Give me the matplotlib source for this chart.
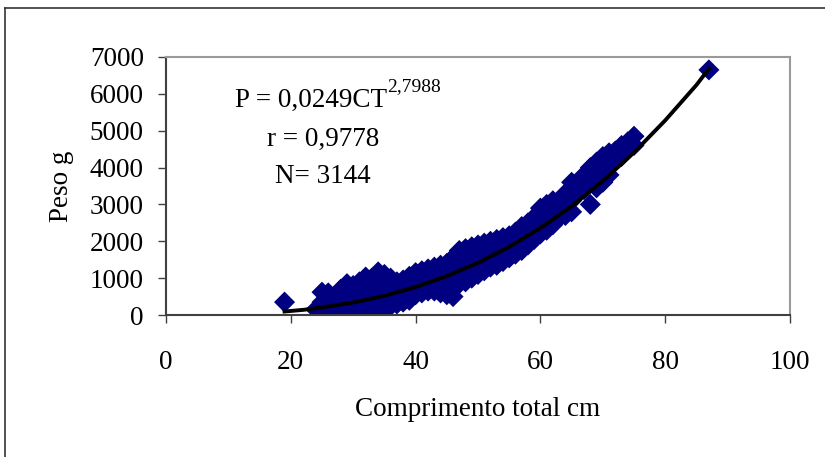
# Peso x comprimento total -- dispersão com curva potencial (estilo Excel)
import matplotlib
matplotlib.use('Agg')
import matplotlib.pyplot as plt
from matplotlib.lines import Line2D

plt.rcParams['font.family'] = ['Liberation Serif', 'DejaVu Serif']

comprimento = (
    [19] + [24] + [25] * 3 + [26] * 3 + [27] * 3 + [28] * 3 + [29] * 4 + [30] * 4 +
    [31] * 4 + [32] * 5 + [33] * 5 + [34] * 6 + [35] * 5 + [36] * 4 + [37] * 4 +
    [38] * 4 + [39] * 4 + [40] * 4 + [41] * 4 + [42] * 4 + [43] * 4 + [44] * 4 +
    [45] * 5 + [46] * 5 + [47] * 5 + [48] * 5 + [49] * 5 + [50] * 5 + [51] * 5 +
    [52] * 5 + [53] * 5 + [54] * 4 + [55] * 4 + [56] * 4 + [57] * 4 + [58] * 4 +
    [59] * 4 + [60] * 4 + [61] * 4 + [62] * 4 + [63] * 2 + [64] * 3 + [65] * 4 +
    [66] * 2 + [67] * 3 + [68] * 4 + [69] * 4 + [70] * 4 + [71] * 3 + [72] * 2 +
    [73] * 2 + [74] * 2 + [75] * 2 + [87]
)
peso = [
    350,
    150,
    100, 350, 620,
    50, 300, 600,
    50, 250, 500,
    100, 400, 700,
    100, 350, 600, 850,
    150, 400, 600, 800,
    150, 400, 650, 900,
    100, 350, 600, 850, 1030,
    150, 400, 650, 850, 1000,
    50, 300, 550, 800, 1000, 1170,
    200, 450, 700, 900, 1100,
    250, 500, 750, 1000,
    300, 550, 750, 900,
    350, 600, 800, 950,
    400, 650, 850, 1050,
    550, 800, 1000, 1150,
    600, 850, 1050, 1200,
    650, 900, 1100, 1250,
    650, 900, 1100, 1300,
    600, 850, 1100, 1350,
    550, 800, 1050, 1250, 1400,
    500, 800, 1050, 1300, 1550,
    850, 1100, 1350, 1550, 1750,
    900, 1150, 1400, 1600, 1800,
    1000, 1250, 1450, 1650, 1850,
    1100, 1300, 1500, 1700, 1900,
    1200, 1400, 1600, 1800, 1950,
    1300, 1500, 1700, 1850, 2000,
    1350, 1550, 1750, 1900, 2050,
    1450, 1650, 1850, 2100,
    1550, 1750, 1950, 2150,
    1650, 1850, 2050, 2250,
    1750, 1950, 2150, 2400,
    1900, 2100, 2300, 2500,
    2050, 2250, 2450, 2650,
    2200, 2450, 2700, 2900,
    2300, 2500, 2750, 3000,
    2450, 2700, 2900, 3100,
    2650, 2750,
    2700, 2950, 3300,
    2800, 3100, 3400, 3600,
    3300, 3550,
    3400, 3650, 3800,
    3000, 3600, 3850, 4000,
    3450, 3700, 3950, 4150,
    3600, 3850, 4100, 4300,
    3800, 4100, 4400,
    4200, 4450,
    4300, 4600,
    4500, 4700,
    4600, 4850,
    6650,
]

# linha de tendência
ct_curva = [19, 22, 25, 30, 35, 40, 45, 50, 55, 60, 65, 70, 75, 80, 85, 87]
p_curva = [95, 140, 205, 340, 520, 760, 1055, 1415, 1850, 2360, 2950, 3635, 4410, 5280, 6240, 6680]

x_ticks = [0, 20, 40, 60, 80, 100]
y_ticks = [0, 1000, 2000, 3000, 4000, 5000, 6000, 7000]

fig = plt.figure(figsize=(8.25, 4.57), dpi=100)
ax = fig.add_axes([0.2012, 0.3107, 0.7564, 0.5646])

ax.scatter(comprimento, peso, marker='D', s=115, c='#000080', edgecolors='none', zorder=2)
ax.plot(ct_curva, p_curva, color='black', lw=2.8, zorder=3)

ax.set_xlim(0, 100)
ax.set_ylim(0, 7000)
ax.set_xticks(x_ticks)
ax.set_yticks(y_ticks)
ax.tick_params(axis='both', direction='out', length=6, width=1, labelsize=19.5, color='#404040')
ax.tick_params(axis='x', pad=19)
ax.tick_params(axis='y', pad=10)

for lado in ['top', 'right']:
    ax.spines[lado].set_color('#9a9a9a')
    ax.spines[lado].set_linewidth(1.5)
for lado in ['left', 'bottom']:
    ax.spines[lado].set_color('#404040')
    ax.spines[lado].set_linewidth(1.5)

ax.set_xlabel('Comprimento total cm', fontsize=19.5, labelpad=16)
ax.set_ylabel('Peso g', fontsize=19.5, labelpad=11)

# equação e estatísticas
t1 = ax.text(0.11, 0.806, 'P = 0,0249CT', transform=ax.transAxes, fontsize=19.5, ha='left', va='baseline')
ax.annotate('2,7988', xy=(1.0, 0.72), xycoords=t1, fontsize=14, ha='left', va='bottom')
ax.text(0.252, 0.655, 'r = 0,9778', transform=ax.transAxes, fontsize=19.5, ha='center', va='baseline')
ax.text(0.252, 0.512, 'N= 3144', transform=ax.transAxes, fontsize=19.5, ha='center', va='baseline')

# moldura externa do gráfico
fig.add_artist(Line2D([0.006, 0.006], [0.0, 0.9825], transform=fig.transFigure, color='#333333', lw=1.2))
fig.add_artist(Line2D([0.006, 1.0], [0.9825, 0.9825], transform=fig.transFigure, color='#333333', lw=1.2))

plt.savefig('out.png', dpi=100)
